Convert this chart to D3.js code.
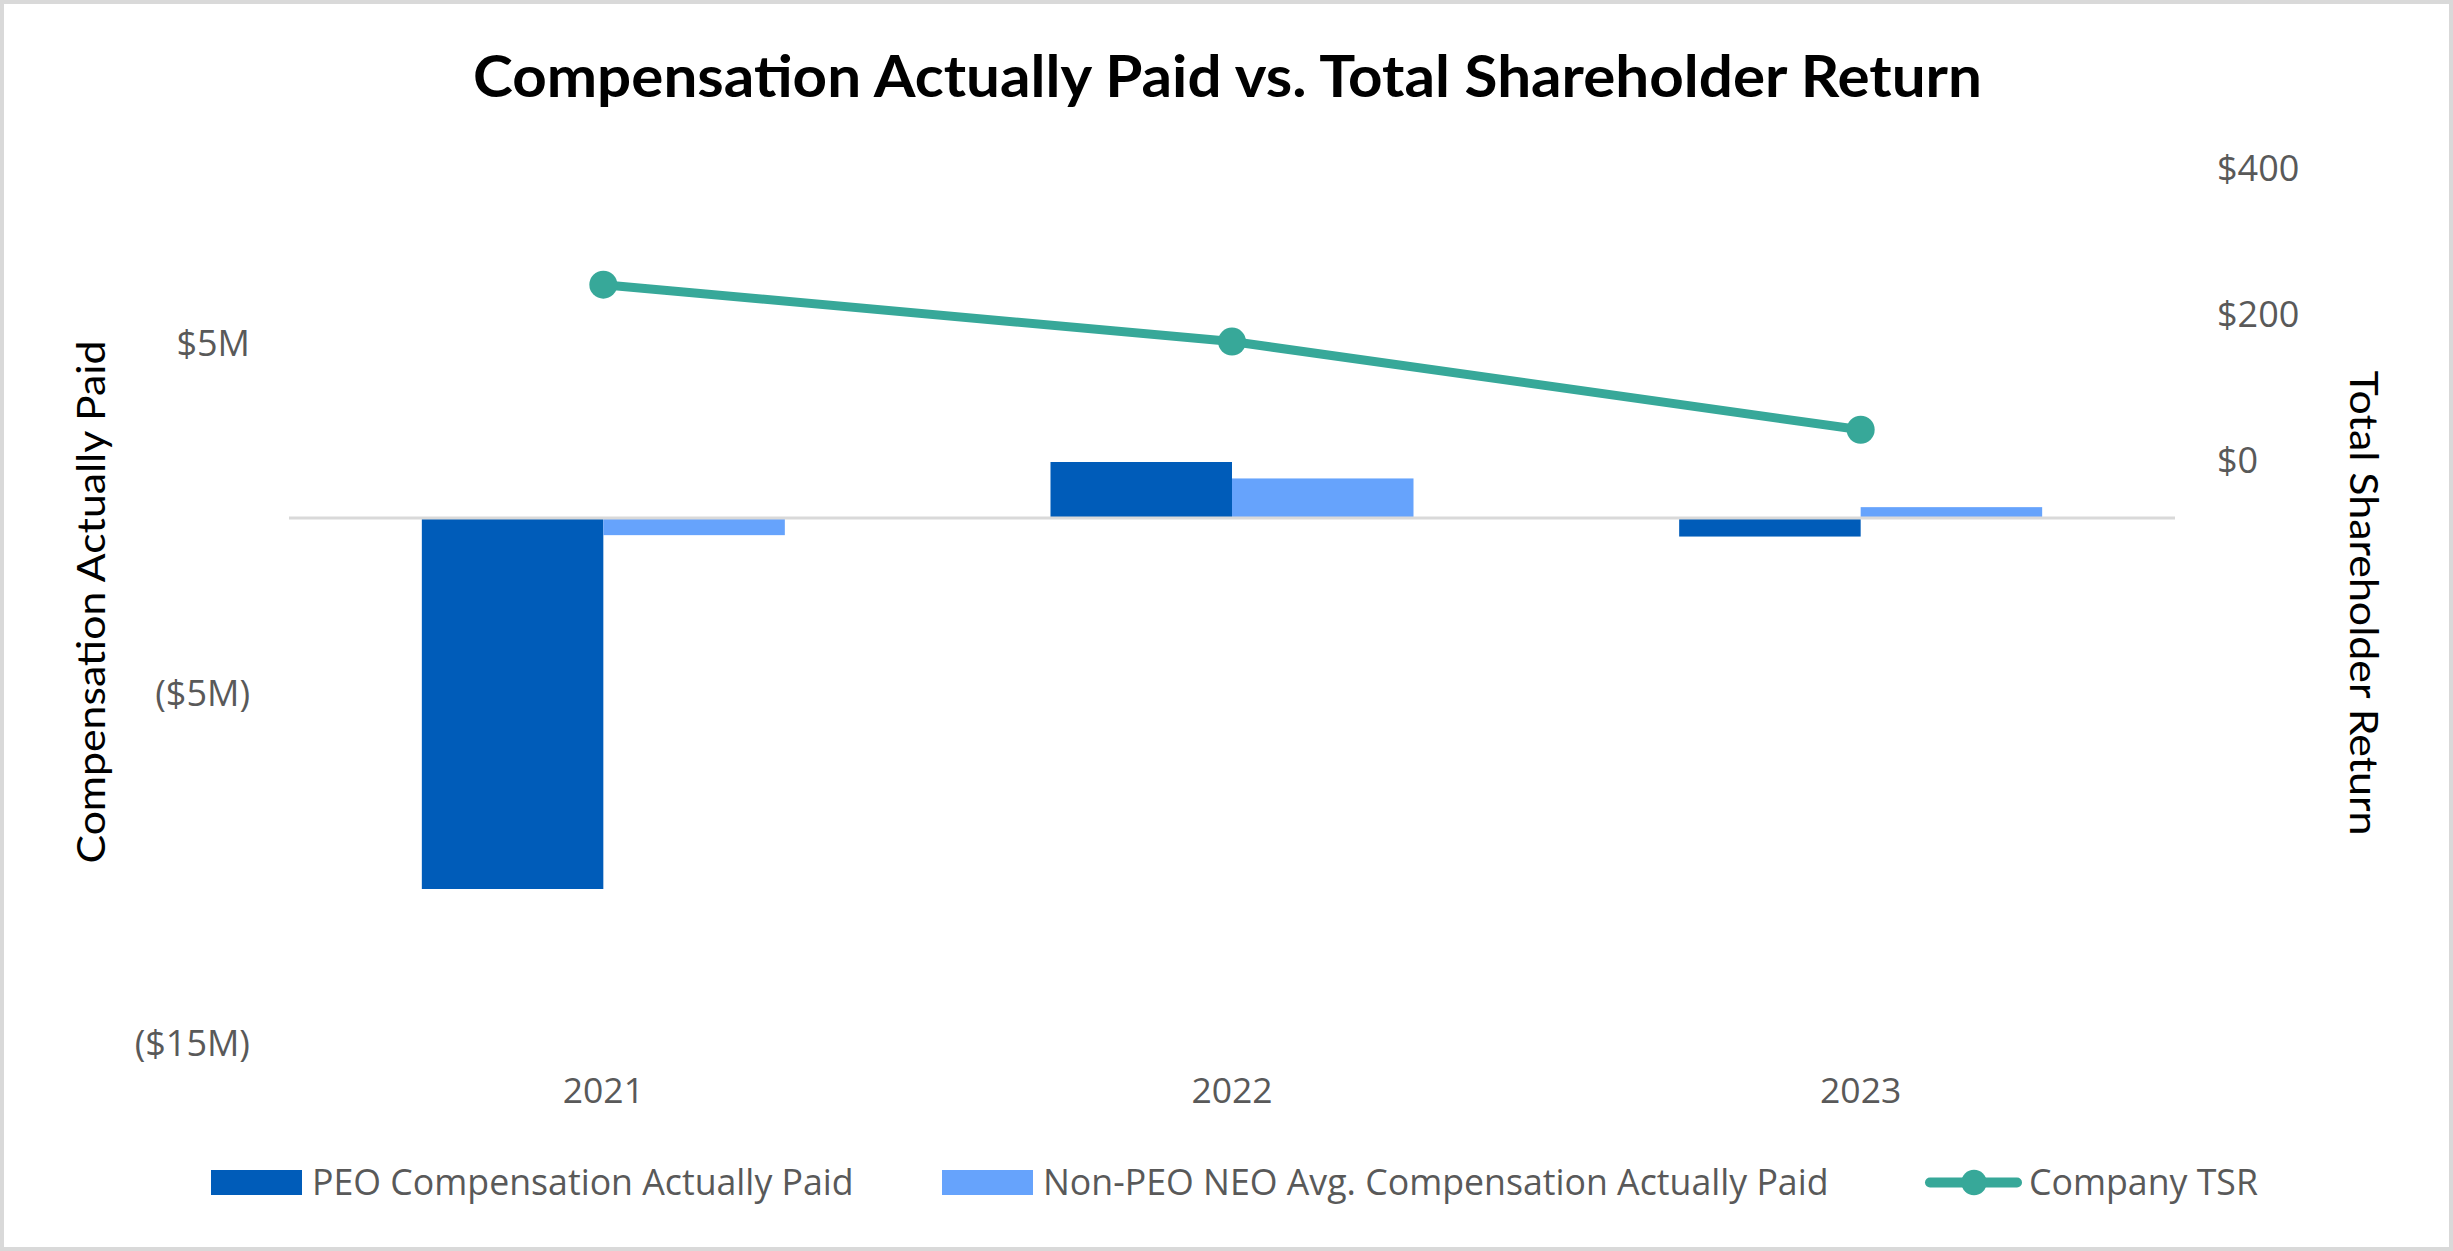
<!DOCTYPE html>
<html>
<head>
<meta charset="utf-8">
<script src="https://cdn.jsdelivr.net/npm/d3@7"></script>
<style>
  html, body { margin: 0; padding: 0; background: #fff; }
  svg { display: block; }
</style>
</head>
<body>
<svg id="chart" width="2453" height="1251"></svg>
<script>
// ---- data ----
const years = ["2021", "2022", "2023"];
const peoCAP = [-10.6, 1.6, -0.53];      // $M
const neoCAP = [-0.49, 1.13, 0.31];      // $M
const tsr = [240, 162, 41];              // $
const leftTicks = [-15, -5, 5];
const rightTicks = [0, 200, 400];
const seriesNames = ["PEO Compensation Actually Paid", "Non-PEO NEO Avg. Compensation Actually Paid", "Company TSR"];
const titleText = "Compensation Actually Paid vs. Total Shareholder Return";
const leftTitle = "Compensation Actually Paid";
const rightTitle = "Total Shareholder Return";

// ---- styles ----
const C_PEO = "#005CB9", C_NEO = "#66A3FC", C_TSR = "#37A899";
const TICK_COLOR = "#595959";
const TICK_FONT = "'Open Sans', sans-serif";
const TITLE_FONT = "Lato, 'Open Sans', sans-serif";

const svg = d3.select("#chart");
const W = 2453, H = 1251;

svg.append("rect").attr("x", 2).attr("y", 2).attr("width", W - 4).attr("height", H - 4)
  .attr("fill", "#fff").attr("stroke", "#D9D9D9").attr("stroke-width", 4);

const plot = { left: 289, right: 2175, top: 168, bottom: 1043 };

const x = d3.scaleBand().domain(years).range([plot.left, plot.right]).padding(0);
const groupW = 363;
const xs = d3.scaleBand().domain(["peo", "neo"]).range([-groupW / 2, groupW / 2]).padding(0);
const yL = d3.scaleLinear().domain([-15, 10]).range([plot.bottom, plot.top]);
const yR = d3.scaleLinear().domain([-800, 400]).range([plot.bottom, plot.top]);

// Title
svg.append("text")
  .attr("x", 1227.5).attr("y", 96.7)
  .attr("text-anchor", "middle")
  .attr("font-family", TITLE_FONT).attr("font-weight", 700).attr("font-size", 58)
  .attr("textLength", 1509).attr("lengthAdjust", "spacingAndGlyphs")
  .attr("fill", "#000").text(titleText);

// Left axis
const fmtL = v => v < 0 ? `($${-v}M)` : `$${v}M`;
const axL = d3.axisLeft(yL).tickValues(leftTicks).tickFormat(fmtL).tickSize(0).tickPadding(0);
const gL = svg.append("g").attr("transform", `translate(250,0)`).call(axL);
gL.select(".domain").remove();
gL.selectAll("text").attr("font-family", TICK_FONT).attr("font-size", 36)
  .attr("fill", TICK_COLOR).attr("dy", "0.36em");

// Right axis
const fmtR = v => `$${v}`;
const axR = d3.axisRight(yR).tickValues(rightTicks).tickFormat(fmtR).tickSize(0).tickPadding(0);
const gR = svg.append("g").attr("transform", `translate(2217,0)`).call(axR);
gR.select(".domain").remove();
gR.selectAll("text").attr("font-family", TICK_FONT).attr("font-size", 36)
  .attr("fill", TICK_COLOR).attr("dy", "0.36em");

// X axis labels
const axX = d3.axisBottom(x).tickSize(0).tickPadding(0);
const gX = svg.append("g").attr("transform", `translate(0,1103)`).call(axX);
gX.select(".domain").remove();
gX.selectAll("text").attr("font-family", TICK_FONT).attr("font-size", 35.5)
  .attr("fill", TICK_COLOR).attr("dy", 0);

// Axis titles
svg.append("text")
  .attr("transform", `translate(90,602) rotate(-90)`)
  .attr("text-anchor", "middle").attr("dominant-baseline", "central")
  .attr("font-family", TITLE_FONT).attr("font-size", 38)
  .attr("textLength", 523).attr("lengthAdjust", "spacingAndGlyphs")
  .attr("fill", "#000").text(leftTitle);
svg.append("text")
  .attr("transform", `translate(2365,603) rotate(90)`)
  .attr("text-anchor", "middle").attr("dominant-baseline", "central")
  .attr("font-family", TITLE_FONT).attr("font-size", 38)
  .attr("textLength", 465).attr("lengthAdjust", "spacingAndGlyphs")
  .attr("fill", "#000").text(rightTitle);

// Bars
const barData = [];
years.forEach((yr, i) => {
  barData.push({ yr, key: "peo", v: peoCAP[i], c: C_PEO });
  barData.push({ yr, key: "neo", v: neoCAP[i], c: C_NEO });
});
svg.append("g").selectAll("rect").data(barData).join("rect")
  .attr("x", d => x(d.yr) + x.bandwidth() / 2 + xs(d.key))
  .attr("width", xs.bandwidth())
  .attr("y", d => Math.min(yL(d.v), yL(0)))
  .attr("height", d => Math.abs(yL(d.v) - yL(0)))
  .attr("fill", d => d.c);

// Zero line
svg.append("line")
  .attr("x1", plot.left).attr("x2", plot.right)
  .attr("y1", yL(0)).attr("y2", yL(0))
  .attr("stroke", "#D9D9D9").attr("stroke-width", 3);

// TSR line
const line = d3.line().x((d, i) => x(years[i]) + x.bandwidth() / 2).y(d => yR(d));
svg.append("path").datum(tsr).attr("d", line)
  .attr("fill", "none").attr("stroke", C_TSR).attr("stroke-width", 9)
  .attr("stroke-linejoin", "round").attr("stroke-linecap", "round");
svg.append("g").selectAll("circle").data(tsr).join("circle")
  .attr("cx", (d, i) => x(years[i]) + x.bandwidth() / 2)
  .attr("cy", d => yR(d)).attr("r", 14).attr("fill", C_TSR);

// Legend
const lg = svg.append("g");
const legY = 1182.5;
const itemXs = [211, 942, 1925];
seriesNames.forEach((name, i) => {
  const x0 = itemXs[i];
  let textX;
  if (i < 2) {
    lg.append("rect").attr("x", x0).attr("y", legY - 12.5).attr("width", 91).attr("height", 25)
      .attr("fill", i === 0 ? C_PEO : C_NEO);
    textX = x0 + 101;
  } else {
    lg.append("line").attr("x1", x0 + 5).attr("x2", x0 + 92).attr("y1", legY).attr("y2", legY)
      .attr("stroke", C_TSR).attr("stroke-width", 10).attr("stroke-linecap", "round");
    lg.append("circle").attr("cx", x0 + 49).attr("cy", legY).attr("r", 12.7).attr("fill", C_TSR);
    textX = x0 + 104;
  }
  lg.append("text").attr("x", textX).attr("y", 1195)
    .attr("font-family", TICK_FONT).attr("font-size", 35.7)
    .attr("fill", TICK_COLOR).text(name);
});
</script>
</body>
</html>
